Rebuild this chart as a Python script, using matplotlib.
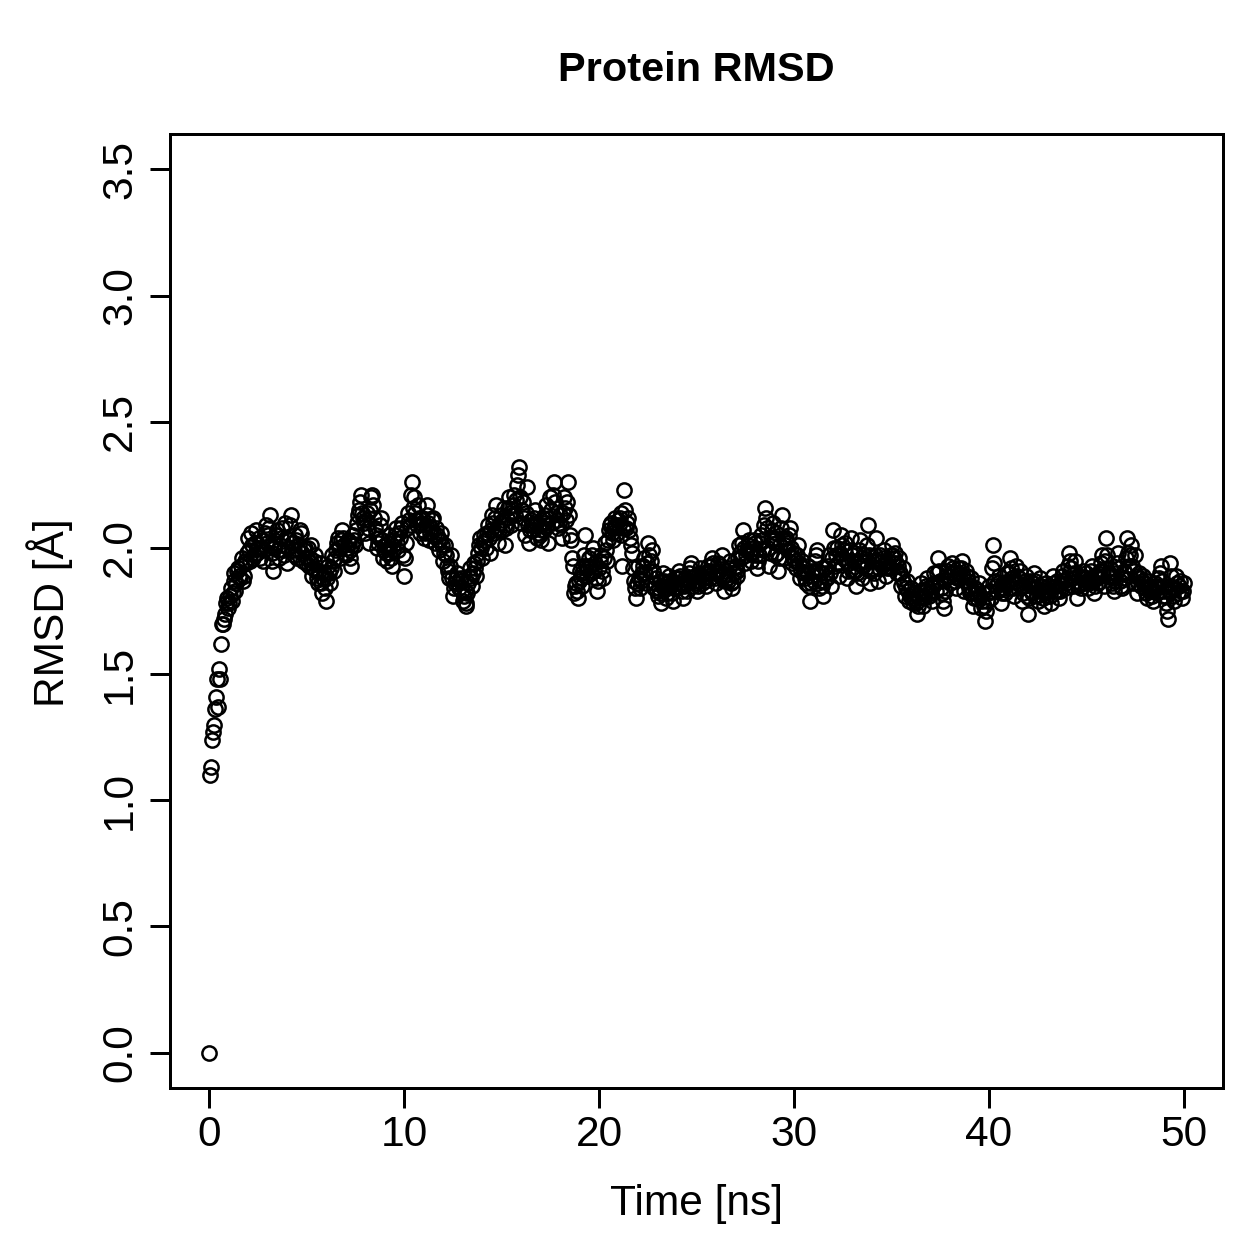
import numpy as np
import matplotlib
matplotlib.use("Agg")
import matplotlib.pyplot as plt

plt.rcParams['font.family'] = ['Liberation Sans', 'DejaVu Sans']

# RMSD values at whole 0.1 ns frames (0.0, 0.1, ... 50.0)
rmsd = [
    0.00, 1.13, 1.27, 1.36, 1.48, 1.52, 1.62, 1.70, 1.74, 1.80,
    1.78, 1.84, 1.82, 1.90, 1.86, 1.92, 1.88, 1.96, 1.89, 1.94,
    2.04, 1.95, 2.01, 1.97, 2.07, 2.00, 1.96, 2.03, 1.99, 2.09,
    2.05, 2.13, 1.98, 1.91, 2.02, 2.07, 1.96, 2.04, 1.99, 2.10,
    1.94, 2.03, 2.13, 1.99, 2.05, 1.96, 2.01, 2.06, 1.95, 2.00,
    1.96, 1.93, 2.01, 1.89, 1.95, 1.91, 1.86, 1.94, 1.82, 1.90,
    1.79, 1.93, 1.86, 1.97, 1.91, 1.99, 2.04, 1.96, 2.07, 2.01,
    1.97, 2.03, 1.99, 1.93, 2.05, 2.01, 2.10, 2.15, 2.21, 2.12,
    2.06, 2.14, 2.02, 2.20, 2.17, 2.08, 2.00, 2.04, 2.12, 1.96,
    2.01, 1.95, 2.05, 1.98, 1.93, 2.03, 2.08, 1.99, 2.04, 2.10,
    1.89, 2.02, 2.14, 2.09, 2.26, 2.20, 2.11, 2.17, 2.06, 2.12,
    2.04, 2.09, 2.17, 2.03, 2.08, 2.12, 2.02, 2.05, 1.99, 2.06,
    1.95, 2.01, 1.93, 1.88, 1.97, 1.81, 1.86, 1.90, 1.84, 1.88,
    1.79, 1.83, 1.77, 1.86, 1.92, 1.85, 1.94, 1.89, 1.98, 2.04,
    1.96, 2.05, 2.00, 2.09, 1.98, 2.13, 2.06, 2.17, 2.02, 2.10,
    2.07, 2.16, 2.01, 2.12, 2.20, 2.09, 2.17, 2.13, 2.25, 2.32,
    2.10, 2.18, 2.05, 2.24, 2.02, 2.11, 2.07, 2.15, 2.04, 2.09,
    2.03, 2.12, 2.07, 2.17, 2.02, 2.20, 2.10, 2.26, 2.14, 2.08,
    2.13, 2.04, 2.20, 2.11, 2.26, 2.05, 1.96, 1.82, 1.86, 1.80,
    1.91, 1.85, 1.93, 2.05, 1.89, 1.96, 1.90, 2.00, 1.94, 1.83,
    1.92, 1.97, 1.88, 2.02, 1.95, 2.07, 2.10, 2.03, 2.12, 2.06,
    2.09, 2.14, 1.93, 2.23, 2.08, 2.12, 2.04, 1.98, 1.87, 1.80,
    1.93, 1.84, 1.90, 1.96, 1.86, 2.02, 1.91, 1.99, 1.84, 1.88,
    1.81, 1.87, 1.78, 1.90, 1.84, 1.82, 1.89, 1.85, 1.79, 1.88,
    1.84, 1.91, 1.86, 1.80, 1.88, 1.83, 1.90, 1.94, 1.85, 1.89,
    1.83, 1.87, 1.92, 1.86, 1.90, 1.85, 1.93, 1.88, 1.96, 1.91,
    1.86, 1.94, 1.89, 1.97, 1.83, 1.91, 1.87, 1.95, 1.84, 1.90,
    1.93, 1.89, 2.01, 1.96, 2.07, 1.94, 1.99, 2.03, 1.95, 2.00,
    2.02, 1.92, 1.97, 2.05, 1.99, 2.16, 2.08, 1.93, 2.03, 2.10,
    1.97, 2.06, 1.91, 2.01, 2.13, 1.96, 2.04, 1.99, 2.08, 1.94,
    1.98, 1.92, 2.01, 1.88, 1.95, 1.90, 1.86, 1.93, 1.79, 1.91,
    1.87, 1.95, 1.99, 1.84, 1.90, 1.81, 1.92, 1.88, 1.97, 1.85,
    2.07, 1.93, 2.00, 1.89, 2.05, 1.96, 2.02, 1.88, 1.94, 2.04,
    1.91, 1.98, 1.85, 1.94, 2.03, 1.88, 1.97, 1.92, 2.09, 1.86,
    1.95, 1.90, 2.04, 1.87, 1.97, 1.93, 1.99, 1.89, 1.95, 1.92,
    2.01, 1.94, 1.98, 1.90, 1.96, 1.85, 1.92, 1.81, 1.87, 1.79,
    1.84, 1.78, 1.82, 1.74, 1.80, 1.86, 1.77, 1.83, 1.88, 1.81,
    1.85, 1.79, 1.90, 1.83, 1.96, 1.87, 1.82, 1.76, 1.89, 1.93,
    1.86, 1.94, 1.90, 1.84, 1.92, 1.88, 1.95, 1.83, 1.91, 1.87,
    1.82, 1.88, 1.77, 1.84, 1.80, 1.86, 1.76, 1.82, 1.71, 1.79,
    1.85, 1.80, 2.01, 1.87, 1.83, 1.89, 1.78, 1.86, 1.82, 1.90,
    1.84, 1.96, 1.88, 1.81, 1.93, 1.86, 1.91, 1.79, 1.85, 1.89,
    1.74, 1.87, 1.82, 1.90, 1.84, 1.79, 1.88, 1.83, 1.77, 1.86,
    1.81, 1.85, 1.78, 1.89, 1.83, 1.87, 1.80, 1.86, 1.91, 1.84,
    1.88, 1.98, 1.92, 1.85, 1.95, 1.80, 1.89, 1.84, 1.91, 1.86,
    1.90, 1.84, 1.88, 1.93, 1.82, 1.89, 1.86, 1.91, 1.97, 1.85,
    2.04, 1.89, 1.92, 1.86, 1.83, 1.90, 1.98, 1.87, 1.84, 1.91,
    1.88, 2.04, 1.93, 2.01, 1.86, 1.97, 1.82, 1.90, 1.85, 1.89,
    1.84, 1.80, 1.87, 1.83, 1.79, 1.86, 1.82, 1.88, 1.93, 1.81,
    1.85, 1.78, 1.72, 1.94, 1.84, 1.79, 1.89, 1.82, 1.87, 1.80,
    1.86,
]

# RMSD values at the in-between frames (0.05, 0.15, ... 49.95)
rmsd_half = [
    1.10, 1.24, 1.30, 1.41, 1.37, 1.48, 1.70, 1.72, 1.78, 1.76,
    1.81, 1.79, 1.87, 1.83, 1.91, 1.89, 1.93, 1.87, 1.95, 1.98,
    1.99, 2.06, 1.96, 2.02, 1.98, 2.04, 2.00, 1.95, 2.06, 2.02,
    2.08, 2.01, 1.95, 2.00, 2.05, 1.99, 2.01, 2.08, 1.97, 2.04,
    2.00, 2.09, 2.02, 1.97, 2.03, 1.99, 2.07, 1.98, 1.99, 1.94,
    2.00, 1.96, 1.94, 1.92, 1.97, 1.88, 1.91, 1.86, 1.88, 1.84,
    1.88, 1.90, 1.92, 1.95, 1.96, 2.02, 2.00, 2.03, 2.04, 1.98,
    2.00, 2.02, 1.96, 2.01, 2.03, 2.07, 2.13, 2.18, 2.14, 2.10,
    2.11, 2.08, 2.15, 2.21, 2.12, 2.05, 2.02, 2.09, 2.03, 1.99,
    1.98, 2.02, 2.00, 1.96, 1.99, 2.05, 2.02, 2.06, 2.08, 1.97,
    1.96, 2.08, 2.11, 2.21, 2.16, 2.14, 2.09, 2.12, 2.10, 2.07,
    2.06, 2.13, 2.10, 2.06, 2.11, 2.05, 2.08, 2.03, 2.03, 2.01,
    1.98, 1.97, 1.91, 1.93, 1.88, 1.84, 1.88, 1.86, 1.87, 1.83,
    1.81, 1.78, 1.82, 1.89, 1.88, 1.90, 1.92, 1.95, 2.01, 2.00,
    2.02, 2.03, 2.06, 2.04, 2.07, 2.10, 2.12, 2.08, 2.07, 2.13,
    2.11, 2.09, 2.08, 2.16, 2.14, 2.13, 2.21, 2.19, 2.29, 2.20,
    2.15, 2.12, 2.14, 2.09, 2.07, 2.09, 2.12, 2.10, 2.06, 2.05,
    2.07, 2.10, 2.13, 2.09, 2.12, 2.15, 2.21, 2.18, 2.11, 2.10,
    2.09, 2.14, 2.16, 2.18, 2.13, 2.03, 1.93, 1.85, 1.83, 1.87,
    1.88, 1.90, 1.97, 1.93, 1.92, 1.93, 1.97, 1.91, 1.88, 1.87,
    1.95, 1.91, 1.96, 1.99, 2.03, 2.09, 2.06, 2.08, 2.09, 2.11,
    2.12, 2.05, 2.08, 2.15, 2.10, 2.07, 2.01, 1.92, 1.84, 1.86,
    1.88, 1.87, 1.93, 1.90, 1.94, 1.97, 1.95, 1.91, 1.86, 1.83,
    1.84, 1.82, 1.85, 1.87, 1.80, 1.86, 1.87, 1.82, 1.84, 1.86,
    1.88, 1.89, 1.83, 1.85, 1.86, 1.87, 1.92, 1.88, 1.87, 1.86,
    1.85, 1.90, 1.89, 1.88, 1.87, 1.90, 1.91, 1.93, 1.94, 1.88,
    1.90, 1.91, 1.93, 1.89, 1.87, 1.88, 1.92, 1.86, 1.87, 1.92,
    1.91, 1.96, 1.98, 2.02, 2.00, 1.97, 2.01, 1.98, 1.98, 2.03,
    1.97, 1.95, 2.02, 2.03, 2.09, 2.12, 2.00, 1.98, 2.07, 2.04,
    2.02, 1.98, 1.96, 2.08, 2.04, 2.01, 2.02, 2.05, 2.00, 1.96,
    1.95, 1.97, 1.94, 1.91, 1.92, 1.88, 1.90, 1.85, 1.86, 1.89,
    1.91, 1.97, 1.91, 1.87, 1.85, 1.87, 1.90, 1.93, 1.90, 1.96,
    2.00, 1.97, 1.94, 1.98, 2.01, 1.99, 1.95, 1.91, 1.99, 1.97,
    1.95, 1.91, 1.90, 1.99, 1.95, 1.93, 1.95, 2.01, 1.97, 1.91,
    1.92, 1.97, 1.95, 1.92, 1.95, 1.96, 1.94, 1.92, 1.93, 1.97,
    1.97, 1.96, 1.94, 1.93, 1.90, 1.88, 1.86, 1.84, 1.83, 1.81,
    1.80, 1.80, 1.78, 1.77, 1.83, 1.81, 1.80, 1.85, 1.84, 1.83,
    1.82, 1.85, 1.86, 1.90, 1.91, 1.84, 1.79, 1.83, 1.91, 1.89,
    1.90, 1.92, 1.87, 1.88, 1.90, 1.92, 1.89, 1.87, 1.89, 1.84,
    1.85, 1.82, 1.80, 1.82, 1.83, 1.81, 1.79, 1.77, 1.75, 1.82,
    1.83, 1.92, 1.94, 1.85, 1.86, 1.84, 1.82, 1.84, 1.86, 1.87,
    1.90, 1.92, 1.84, 1.87, 1.89, 1.88, 1.85, 1.82, 1.87, 1.81,
    1.80, 1.85, 1.86, 1.87, 1.81, 1.83, 1.85, 1.80, 1.82, 1.83,
    1.83, 1.81, 1.84, 1.86, 1.85, 1.83, 1.83, 1.89, 1.87, 1.86,
    1.93, 1.95, 1.88, 1.90, 1.87, 1.85, 1.86, 1.88, 1.88, 1.88,
    1.87, 1.86, 1.91, 1.87, 1.85, 1.88, 1.89, 1.94, 1.91, 1.95,
    1.97, 1.90, 1.89, 1.85, 1.87, 1.94, 1.92, 1.85, 1.88, 1.90,
    1.96, 1.98, 1.97, 1.93, 1.91, 1.89, 1.86, 1.88, 1.87, 1.86,
    1.82, 1.84, 1.85, 1.81, 1.83, 1.84, 1.85, 1.90, 1.87, 1.83,
    1.81, 1.75, 1.83, 1.89, 1.81, 1.84, 1.86, 1.85, 1.83, 1.83,
]

time_ns = np.arange(len(rmsd)) * 0.1
time_half = np.arange(len(rmsd_half)) * 0.1 + 0.05

x_ticks = [0, 10, 20, 30, 40, 50]
y_ticks = [0.0, 0.5, 1.0, 1.5, 2.0, 2.5, 3.0, 3.5]

fig = plt.figure(figsize=(7, 7), dpi=180)
W = 1259
ax = fig.add_axes([170 / W, 1 - 1087 / W, (1222 - 170) / W, (1087 - 134) / W])

all_t = np.concatenate([time_ns, time_half])
all_r = np.concatenate([rmsd, rmsd_half])
order = np.argsort(all_t)
ax.plot(all_t[order], all_r[order], linestyle='none', marker='o', markersize=5.7,
        markerfacecolor='none', markeredgecolor='black', markeredgewidth=1.0)

ax.set_xlim(-2, 52)
ax.set_ylim(-0.14, 3.64)
ax.set_xticks(x_ticks)
ax.set_yticks(y_ticks)
ax.set_xticklabels([str(v) for v in x_ticks])
ax.set_yticklabels([f'{v:.1f}' for v in y_ticks], rotation=90, va='center')
ax.tick_params(direction='out', length=8, width=1.2, labelsize=17)
ax.tick_params(axis='x', pad=3)
ax.tick_params(axis='y', pad=4)
for s in ax.spines.values():
    s.set_linewidth(1.2)

fig.text(696 / W, 1 - 70 / W, 'Protein RMSD', ha='center', va='center',
         fontsize=16.6, fontweight='bold')
fig.text(696 / W, 1 - 1203 / W, 'Time [ns]', ha='center', va='center', fontsize=17)
fig.text(50 / W, 1 - 612 / W, 'RMSD [Å]', ha='center', va='center',
         fontsize=17, rotation=90)

fig.savefig('out.png', dpi=180)
